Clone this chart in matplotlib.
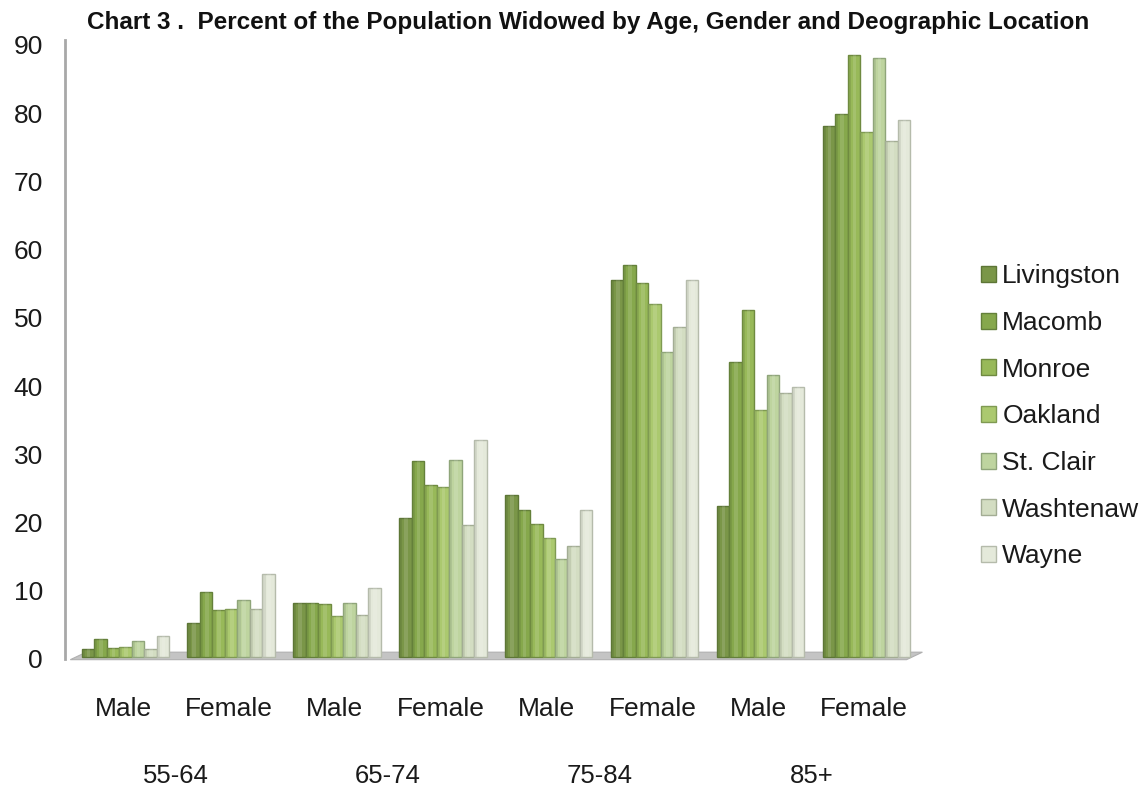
import matplotlib
matplotlib.use("Agg")
import matplotlib.pyplot as plt
import numpy as np
from matplotlib.patches import Polygon

# ---- data ----
counties = ["Livingston", "Macomb", "Monroe", "Oakland", "St. Clair", "Washtenaw", "Wayne"]
genders = ["Male", "Female", "Male", "Female", "Male", "Female", "Male", "Female"]
age_groups = ["55-64", "65-74", "75-84", "85+"]

livingston = [1.2, 5.0, 7.9, 20.3, 23.7, 55.2, 22.1, 77.8]
macomb     = [2.6, 9.5, 7.9, 28.7, 21.5, 57.5, 43.3, 79.6]
monroe     = [1.3, 6.9, 7.8, 25.2, 19.5, 54.8, 50.8, 88.3]
oakland    = [1.5, 7.1, 6.0, 24.9, 17.4, 51.8, 36.2, 76.9]
st_clair   = [2.3, 8.4, 7.9, 28.8, 14.3, 44.7, 41.4, 87.8]
washtenaw  = [1.2, 7.1, 6.1, 19.3, 16.2, 48.3, 38.7, 75.7]
wayne      = [3.1, 12.2, 10.1, 31.8, 21.5, 55.3, 39.6, 78.7]

series = [livingston, macomb, monroe, oakland, st_clair, washtenaw, wayne]
colors = ["#7a9648", "#86a84c", "#98b959", "#abc96f", "#bed49f", "#d3ddc2", "#e4e9da"]
edges  = ["#5d7636", "#64803a", "#6f8a40", "#7f9a52", "#8fa57a", "#a3ad94", "#b5bbab"]

plt.rcParams["font.family"] = ["Liberation Sans", "DejaVu Sans"]

fig = plt.figure(figsize=(11.41, 7.90), dpi=100)
ax = fig.add_axes([65/1141, 1 - 659/790, (915 - 65)/1141, (659 - 45)/790])

x = np.arange(len(genders))
n = len(series)
bw = 0.118
offs = (np.arange(n) - (n - 1) / 2) * bw + 0.02

ax.set_xlim(-0.55, 7.48)
ax.set_ylim(0, 90)

# floor
floor = Polygon([(-0.50, -0.1), (7.40, -0.1), (7.55, 1.0), (-0.35, 1.0)],
                closed=True, facecolor="#c4c4c4", edgecolor="#b0b0b0", lw=0.8,
                zorder=1, clip_on=False)
ax.add_patch(floor)

for i, (vals, c, e) in enumerate(zip(series, colors, edges)):
    ax.bar(x + offs[i], vals, width=bw, color=c, edgecolor=e, linewidth=1.0,
           zorder=3, label=counties[i], bottom=0.3)
    # cylinder shading: darker left strip and lighter highlight
    ax.bar(x + offs[i] - bw * 0.36, vals, width=bw * 0.22, color=e, alpha=0.35,
           linewidth=0, zorder=4, bottom=0.3)
    ax.bar(x + offs[i] + bw * 0.05, vals, width=bw * 0.3, color="white", alpha=0.12,
           linewidth=0, zorder=4, bottom=0.3)

for s in ["top", "right", "bottom"]:
    ax.spines[s].set_visible(False)
ax.spines["left"].set_color("#a8a8a8")
ax.spines["left"].set_linewidth(2)
ax.spines["left"].set_bounds(0, 90.7)

ax.set_yticks(np.arange(0, 91, 10))
ax.tick_params(axis="y", length=0, pad=16, labelsize=19, labelcolor="#1a1a1a")
ax.set_xticks(x)
ax.set_xticklabels(genders, fontsize=19, color="#1a1a1a")
ax.tick_params(axis="x", length=0, pad=27)

for k, ag in enumerate(age_groups):
    ax.text(2 * k + 0.5, -17.2, ag, ha="center", va="center", fontsize=18.5,
            color="#1a1a1a", clip_on=False)

fig.text(588/1141, 1 - 22/790,
         "Chart 3 .  Percent of the Population Widowed by Age, Gender and Deographic Location",
         ha="center", va="center", fontsize=17.5, fontweight="bold", color="#111111")

leg = ax.legend(loc="upper left", bbox_to_anchor=(968/1141, 1 - 251/790),
                bbox_transform=fig.transFigure, frameon=False, fontsize=19,
                handlelength=0.55, handleheight=0.55, handletextpad=0.25,
                labelspacing=0.86, borderpad=0)
for t in leg.get_texts():
    t.set_color("#1a1a1a")

fig.savefig("out.png", dpi=100, facecolor="white")
